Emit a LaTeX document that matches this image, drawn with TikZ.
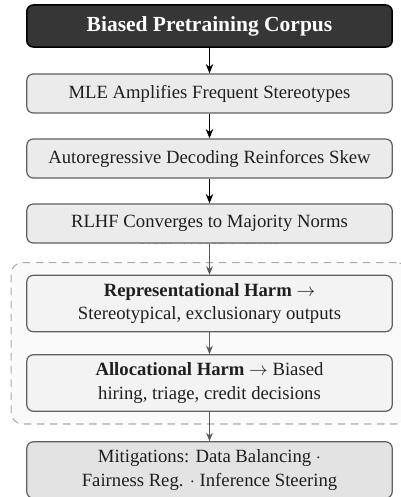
\documentclass[tikz,border=0pt]{standalone}
\usepackage{fontspec}
\setmainfont{Liberation Serif}
\usetikzlibrary{arrows.meta,fit,backgrounds}
\definecolor{boxfill}{HTML}{EBEBEB}
\definecolor{harmfill}{HTML}{F3F3F3}
\definecolor{mitfill}{HTML}{E3E3E3}
\definecolor{boxline}{HTML}{606060}
\definecolor{topfill}{HTML}{363636}
\definecolor{grpfill}{HTML}{FAFAFA}
\definecolor{grpline}{HTML}{ABABAB}
\definecolor{garrow}{HTML}{5A5A5A}
\begin{document}
\begin{tikzpicture}[x=0.535pt,y=-0.535pt,
  box/.style={draw=boxline, line width=0.65pt, rounded corners=3.5pt, fill=boxfill,
    minimum width=195.5pt, minimum height=20.9pt, inner sep=0pt, align=center,
    font=\fontsize{10}{12.5}\selectfont, text=black!88},
  topbox/.style={box, draw=black, line width=0.8pt, fill=topfill, text=white,
    minimum height=22.5pt, font=\fontsize{11.5}{13}\selectfont\bfseries},
  harmbox/.style={box, fill=harmfill, minimum height=30.2pt},
  mitbox/.style={box, fill=mitfill, minimum height=30.2pt},
  blkarrow/.style={-{Stealth[length=5pt,width=4pt]}, line width=0.8pt, black},
  grayarrow/.style={-{Stealth[length=4.5pt,width=3.6pt]}, line width=0.6pt, garrow},
  group/.style={draw=grpline, fill=grpfill, dashed, dash pattern=on 4pt off 3pt,
    line width=0.55pt, rounded corners=6pt}
]
\useasboundingbox (0,0) rectangle (401,497);

\node[topbox] (top) at (209.5,26) {Biased Pretraining Corpus};
\node[box] (mle) at (209.5,93.5) {MLE Amplifies Frequent Stereotypes};
\node[box] (ard) at (209.5,158.5) {Autoregressive Decoding Reinforces Skew};
\node[box] (rlhf) at (209.5,223.5) {RLHF Converges to Majority Norms};
\node[harmbox] (repr) at (209.5,303.5) {\textbf{Representational Harm} $\rightarrow$\\Stereotypical, exclusionary outputs};
\node[harmbox] (alloc) at (209.5,383) {\textbf{Allocational Harm} $\rightarrow$ Biased\\hiring, triage, credit decisions};
\node[mitbox] (mit) at (209.5,470) {Mitigations: Data Balancing $\cdot$\\Fairness Reg. $\cdot$ Inference Steering};

\begin{scope}[on background layer]
  \node[group, fit=(repr)(alloc), inner xsep=8pt, inner ysep=6.5pt] (grp) {};
  \node[anchor=base, text=black!30, font=\fontsize{10}{12}\selectfont, inner sep=0pt] (grplabel) at (209.5,244.8) {Real-World Harms};
\end{scope}

\draw[blkarrow] (top) -- (mle);
\draw[blkarrow] (mle) -- (ard);
\draw[blkarrow] (ard) -- (rlhf);
\draw[grayarrow] (rlhf) -- (repr);
\draw[grayarrow] (repr) -- (alloc);
\draw[grayarrow] (alloc) -- (mit);
\end{tikzpicture}
\end{document}
